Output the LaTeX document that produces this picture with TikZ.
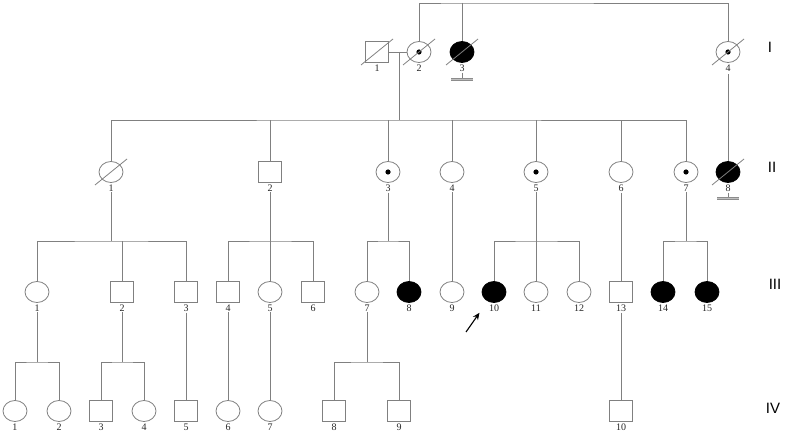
\documentclass[tikz,border=0pt]{standalone}
\usepackage{fontspec}
\setmainfont{Liberation Serif}
\newfontfamily\gensans{Liberation Sans}
\usetikzlibrary{arrows.meta,positioning,shapes.geometric}

\tikzset{
  line/.style={draw=black!50, line width=0.8pt},
  male/.style={rectangle, draw=black!50, line width=0.8pt, minimum width=23pt, minimum height=21pt, inner sep=0pt},
  female/.style={ellipse, draw=black!50, line width=0.8pt, minimum width=24pt, minimum height=21pt, inner sep=0pt},
  affected/.style={fill=black, draw=black},
  carrier/.style={path picture={\fill[black] (path picture bounding box.center) circle (2.6pt);}},
  num/.style={font=\fontsize{10}{11}\selectfont, inner sep=1pt, text=black!85},
  bar/.style={draw=black!45, double=black!25, double distance=1.2pt, line width=0.8pt},
  gen/.style={font=\gensans\fontsize{15}{16}\selectfont, inner sep=0pt},
}

\begin{document}
\begin{tikzpicture}[x=1pt, y=-1pt, label distance=0.5pt]
  \useasboundingbox (0,0) rectangle (787,435);

  % generation I
  \node[male] (I1) at (377,52) [label={[num, name=I1n]below:1}] {};
  \node[female, carrier] (I2) at (419,52) [label={[num, name=I2n]below:2}] {};
  \node[female, affected] (I3) at (462,52) [label={[num, name=I3n]below:3}] {};
  \node[female, carrier] (I4) at (728,52) [label={[num, name=I4n]below:4}] {};

  % generation II
  \node[female] (II1) at (111,172) [label={[num, name=II1n]below:1}] {};
  \node[male] (II2) at (270,172) [label={[num, name=II2n]below:2}] {};
  \node[female, carrier] (II3) at (388,172) [label={[num, name=II3n]below:3}] {};
  \node[female] (II4) at (452,172) [label={[num, name=II4n]below:4}] {};
  \node[female, carrier] (II5) at (536,172) [label={[num, name=II5n]below:5}] {};
  \node[female] (II6) at (621,172) [label={[num, name=II6n]below:6}] {};
  \node[female, carrier] (II7) at (686,172) [label={[num, name=II7n]below:7}] {};
  \node[female, affected] (II8) at (728,172) [label={[num, name=II8n]below:8}] {};

  % generation III
  \node[female] (III1) at (37,292) [label={[num, name=III1n]below:1}] {};
  \node[male] (III2) at (122,292) [label={[num, name=III2n]below:2}] {};
  \node[male] (III3) at (186,292) [label={[num, name=III3n]below:3}] {};
  \node[male] (III4) at (228,292) [label={[num, name=III4n]below:4}] {};
  \node[female] (III5) at (270,292) [label={[num, name=III5n]below:5}] {};
  \node[male] (III6) at (313,292) [label={[num, name=III6n]below:6}] {};
  \node[female] (III7) at (367,292) [label={[num, name=III7n]below:7}] {};
  \node[female, affected] (III8) at (409,292) [label={[num, name=III8n]below:8}] {};
  \node[female] (III9) at (452,292) [label={[num, name=III9n]below:9}] {};
  \node[female, affected] (III10) at (494,292) [label={[num, name=III10n]below:10}] {};
  \node[female] (III11) at (536,292) [label={[num, name=III11n]below:11}] {};
  \node[female] (III12) at (579,292) [label={[num, name=III12n]below:12}] {};
  \node[male] (III13) at (621,292) [label={[num, name=III13n]below:13}] {};
  \node[female, affected] (III14) at (663,292) [label={[num, name=III14n]below:14}] {};
  \node[female, affected] (III15) at (707,292) [label={[num, name=III15n]below:15}] {};

  % generation IV
  \node[female] (IV1) at (15,411) [label={[num]below:1}] {};
  \node[female] (IV2) at (59,411) [label={[num]below:2}] {};
  \node[male] (IV3) at (101,411) [label={[num]below:3}] {};
  \node[female] (IV4) at (144,411) [label={[num]below:4}] {};
  \node[male] (IV5) at (186,411) [label={[num]below:5}] {};
  \node[female] (IV6) at (228,411) [label={[num]below:6}] {};
  \node[female] (IV7) at (270,411) [label={[num]below:7}] {};
  \node[male] (IV8) at (334,411) [label={[num]below:8}] {};
  \node[male] (IV9) at (399,411) [label={[num]below:9}] {};
  \node[male] (IV10) at (621,411) [label={[num]below:10}] {};

  % generation numbers
  \node[gen] (gI) at (770,47) {I};
  \node[gen] (gII) at (772,167) {II};
  \node[gen] (gIII) at (775,284) {III};
  \node[gen] (gIV) at (773,408) {IV};

  % deceased
  \foreach \n in {I1,I2,I3,I4,II1,II8}
    \draw[line] ([shift={(-16pt,-13pt)}]\n.center) -- ([shift={(16pt,13pt)}]\n.center);

  % no offspring
  \coordinate[below=7pt of I3n] (b3);
  \coordinate[below=6pt of II8n] (b8);
  \draw[line] (I3n) -- (b3);
  \draw[line] (II8n) -- (b8);
  \draw[bar] ([xshift=-11pt]b3) -- ([xshift=11pt]b3);
  \draw[bar] ([xshift=-11pt]b8) -- ([xshift=11pt]b8);

  % generation I lines
  \coordinate (t) at (462,3);
  \coordinate (m1) at (399,52);
  \coordinate (s2) at (399,120);
  \draw[line] (I2) |- (t) -| (I4);
  \draw[line] (t) -- (I3);
  \draw[line] (I1) -- (I2);
  \draw[line] (m1) -- (s2);
  \draw[line, shorten <=2pt] (I4n) -- (II8);

  % generation II lines
  \draw[line] (II1) |- (s2) -| (II7);
  \foreach \c in {II2,II3,II4,II5,II6}
    \draw[line] (\c) -- (\c |- s2);

  % generation III lines
  \coordinate (s31) at (111,241);
  \coordinate (s32) at (270,241);
  \coordinate (s33) at (388,241);
  \coordinate (s35) at (536,241);
  \coordinate (s37) at (686,241);
  \draw[line] (II1n) -- (s31);
  \draw[line] (III1) |- (s31) -| (III3);
  \draw[line] (III2) -- (III2 |- s31);
  \draw[line] (II2n) -- (s32);
  \draw[line] (III4) |- (s32) -| (III6);
  \draw[line] (III5) -- (s32);
  \draw[line] (II3n) -- (s33);
  \draw[line] (III7) |- (s33) -| (III8);
  \draw[line] (II4n) -- (III9);
  \draw[line] (II5n) -- (s35);
  \draw[line] (III10) |- (s35) -| (III12);
  \draw[line] (III11) -- (s35);
  \draw[line] (II6n) -- (III13);
  \draw[line] (II7n) -- (s37);
  \draw[line] (III14) |- (s37) -| (III15);

  % generation IV lines
  \coordinate (s41) at (37,362);
  \coordinate (s42) at (122,362);
  \coordinate (s47) at (367,362);
  \draw[line] (III1n) -- (s41);
  \draw[line] (IV1) |- (s41) -| (IV2);
  \draw[line] (III2n) -- (s42);
  \draw[line] (IV3) |- (s42) -| (IV4);
  \draw[line] (III3n) -- (IV5);
  \draw[line] (III4n) -- (IV6);
  \draw[line] (III5n) -- (IV7);
  \draw[line] (III7n) -- (s47);
  \draw[line] (IV8) |- (s47) -| (IV9);
  \draw[line] (III13n) -- (IV10);

  % proband
  \coordinate (pa) at (466,332);
  \draw[-{Stealth[length=7pt, width=6pt]}, line width=1.1pt, shorten >=14pt] (pa) -- (III10);
\end{tikzpicture}
\end{document}
